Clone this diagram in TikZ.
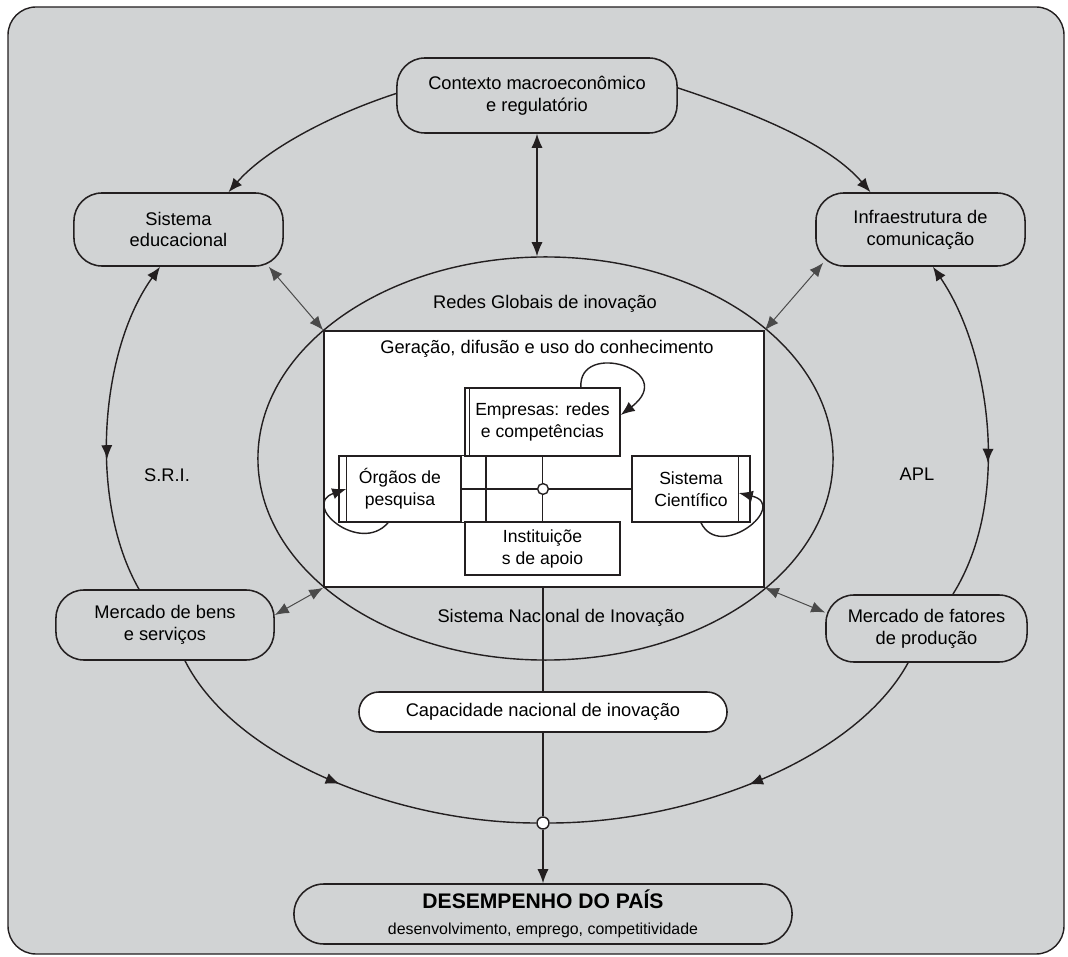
\documentclass[tikz,border=0pt]{standalone}
\usepackage{fontspec}
\setmainfont{Liberation Sans}
\usepackage{tikz}
\usetikzlibrary{arrows.meta,positioning,shapes.geometric,decorations.markings}
\definecolor{srigray}{HTML}{D1D3D4}
\definecolor{sriink}{HTML}{231F20}
\definecolor{srilink}{HTML}{4A4A4A}
\tikzset{
  ringBox/.style={draw=sriink, fill=srigray, line width=1.1pt, rounded corners=0.7cm, align=center, inner sep=2pt, font=\fontsize{13}{15.6}\selectfont},
  innerBox/.style={draw=sriink, fill=white, line width=1.1pt, align=center, inner sep=2pt, font=\fontsize{12.5}{15.6}\selectfont},
  ringLine/.style={draw=sriink, line width=1pt},
  ringArrow/.style={-{Latex[length=3.5mm,width=2.8mm]}, line width=1pt, draw=sriink},
  bothArrow/.style={{Latex[length=3.5mm,width=2.8mm]}-{Latex[length=3.5mm,width=2.8mm]}, line width=1pt, draw=sriink},
  linkArrow/.style={{Latex[length=3.5mm,width=2.8mm]}-{Latex[length=3.5mm,width=2.8mm]}, line width=0.7pt, draw=srilink},
  midArrow/.style={postaction={decorate}, decoration={markings, mark=at position #1 with {\arrow{Latex[length=3.5mm,width=2.8mm]}}}},
  ringLabel/.style={font=\fontsize{13}{15.6}\selectfont, align=center}
}

\begin{document}
\begin{tikzpicture}[x=0.025cm,y=-0.025cm]
  \useasboundingbox (0,0) rectangle (1068,957);
  \draw[sriink, fill=srigray, line width=1pt, rounded corners=0.7cm] (8,7) rectangle (1064,954);

  % outer ring
  \node[ringBox, minimum width=7cm, minimum height=1.875cm] (ctx) at (537,95.5) {Contexto macroeconômico\\e regulatório};
  \node[ringBox, minimum width=5.225cm, minimum height=1.825cm] (edu) at (178.5,229.5) {Sistema\\educacional};
  \node[ringBox, minimum width=5.225cm, minimum height=1.825cm] (infra) at (920.5,229.5) {Infraestrutura de\\comunicação};
  \node[ringBox, minimum width=5.45cm, minimum height=1.75cm] (bens) at (165,625) {Mercado de bens\\e serviços};
  \node[ringBox, minimum width=5.025cm, minimum height=1.675cm] (fat) at (926.5,628.5) {Mercado de fatores\\de produção};
  \node[ringBox, fill=white, rounded corners=0.5cm, minimum width=9.2cm, minimum height=1cm] (cap) at (543,712) {Capacidade nacional de inovação};
  \node[ringBox, rounded corners=0.75cm, minimum width=12.45cm, minimum height=1.5cm] (desemp) at (543,914)
    {{\fontsize{15}{18}\selectfont\bfseries DESEMPENHO DO PAÍS}\\[3pt]{\fontsize{11.3}{14}\selectfont desenvolvimento, emprego, competitividade}};

  % national system
  \node[draw=sriink, line width=1pt, ellipse, minimum width=14.375cm, minimum height=10.075cm, inner sep=0pt] (sni) at (545.5,458.5) {};
  \node[draw=sriink, fill=white, line width=1.1pt, minimum width=11cm, minimum height=6.4cm, inner sep=0pt] (gen) at (544,459) {};
  \node[ringLabel] (redes) at (545,304) {Redes Globais de inovação};
  \node[ringLabel] (genlbl) at (547,349) {Geração, difusão e uso do conhecimento};
  \node[ringLabel] (snilbl) at (561,618) {Sistema Nacional de Inovação};
  \node[ringLabel] (sri) at (167,475) {S.R.I.};
  \node[ringLabel] (apl) at (917,474) {APL};

  % actors
  \node[innerBox, minimum width=3.875cm, minimum height=1.7cm] (empr) at (542.5,422) {Empresas: redes\\e competências};
  \node[innerBox, minimum width=3.05cm, minimum height=1.65cm] (org) at (400,489) {Órgãos de\\pesquisa};
  \node[innerBox, minimum width=2.95cm, minimum height=1.65cm] (sci) at (691,489) {Sistema\\Científico};
  \node[innerBox, minimum width=3.875cm, minimum height=1.325cm] (inst) at (542.5,548.5) {Instituiçõe\\s de apoio};
  \draw[ringLine] ([xshift=0.125cm]empr.north west) -- ([xshift=0.125cm]empr.south west);
  \draw[ringLine] ([xshift=0.2cm]org.north west) -- ([xshift=0.2cm]org.south west);
  \draw[ringLine] ([xshift=-0.3cm]sci.north east) -- ([xshift=-0.3cm]sci.south east);
  \draw[ringLine] (org.north east) rectangle ([xshift=0.6cm]org.south east);
  \draw[ringLine] (empr.south) -- (inst.north);
  \draw[ringLine] (org.east) -- (sci.west);
  \node[draw=sriink, fill=white, circle, inner sep=0pt, minimum size=0.27cm, line width=1pt] (hub) at (543,489) {};

  % self loops
  \draw[ringArrow] ([xshift=0.96cm]empr.north) .. controls (578,340) and (680,370) .. ([yshift=0.175cm]empr.east);
  \draw[ringArrow] ([xshift=-0.3cm]org.south) .. controls (360,555) and (300,505) .. ([xshift=0.2cm]org.west);
  \draw[ringArrow] ([xshift=0.25cm]sci.south) .. controls (720,562) and (790,505) .. ([xshift=-0.3cm,yshift=-0.1cm]sci.east);

  % ring connectors
  \draw[ringArrow] ([yshift=0.05cm]ctx.west) .. controls (330,115) and (265,150) .. ([xshift=1.25cm]edu.north);
  \draw[ringArrow] ([yshift=0.19cm]ctx.east) .. controls (760,115) and (830,145) .. ([xshift=-1.25cm]infra.north);
  \draw[bothArrow] (ctx.south) -- (ctx.south |- sni.north);
  \draw[linkArrow] ([xshift=-0.375cm]edu.south east) -- (gen.north west);
  \draw[linkArrow] ([xshift=0.2cm,yshift=0.1cm]infra.south west) -- (gen.north east);
  \draw[linkArrow] ([yshift=0.25cm]bens.east) -- (gen.south west);
  \draw[linkArrow] ([yshift=0.4cm]fat.west) -- (gen.south east);
  \draw[ringLine, {Latex[length=3.5mm,width=2.8mm]}-, midArrow=0.6] ([xshift=-0.46cm]edu.south) .. controls (100,350) and (88,500) .. ([xshift=-0.65cm]bens.north);
  \draw[ringLine, {Latex[length=3.5mm,width=2.8mm]}-, midArrow=0.6] ([xshift=0.31cm]infra.south) .. controls (990,350) and (1012,500) .. ([xshift=0.66cm]fat.north);

  % performance
  \node[draw=sriink, fill=white, circle, inner sep=0pt, minimum size=0.3cm, line width=1pt] (hub2) at (543,823) {};
  \draw[ringLine, midArrow=0.5] ([xshift=0.5cm]bens.south) .. controls (235,760) and (400,823) .. (hub2.west);
  \draw[ringLine, midArrow=0.5] ([xshift=-0.46cm]fat.south) .. controls (855,760) and (690,823) .. (hub2.east);
  \draw[ringLine] (cap.north |- gen.south) -- (cap.north);
  \draw[ringLine] (cap.south) -- (hub2.north);
  \draw[ringArrow] (hub2.south) -- (desemp.north);
\end{tikzpicture}
\end{document}
